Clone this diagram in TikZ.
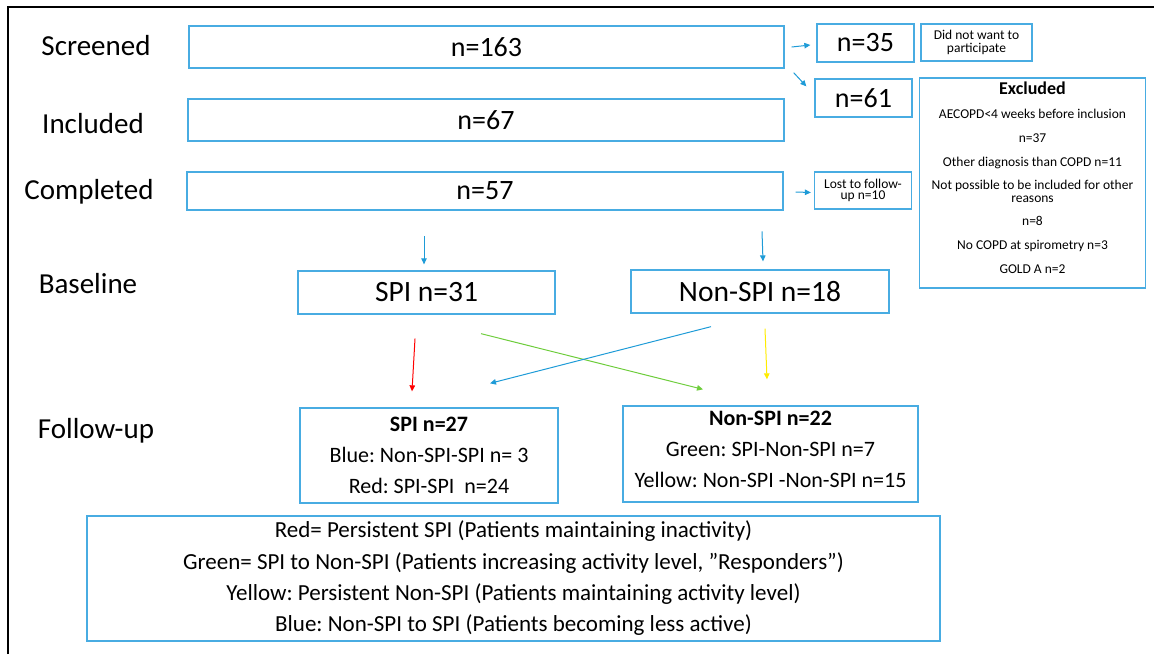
\documentclass[tikz,border=0pt]{standalone}
\usepackage{fontspec}
\setmainfont{Carlito}
\usetikzlibrary{calc,arrows.meta}
\definecolor{boxblue}{RGB}{72,172,226}
\definecolor{arrblue}{RGB}{30,155,215}
\definecolor{arrgreen}{RGB}{110,205,60}
\definecolor{arryellow}{RGB}{255,236,0}
\tikzset{
  box/.style={draw=boxblue, line width=1.3pt, inner sep=0pt, align=center},
  big/.style={font=\fontsize{28}{32}\selectfont},
  bigb/.style={font=\fontsize{29.5}{32}\selectfont},
  mid/.style={font=\fontsize{22}{31}\selectfont},
  small/.style={font=\fontsize{13.5}{13}\selectfont},
  stage/.style={font=\fontsize{29}{32}\selectfont, inner sep=0pt},
  arr/.style={line width=1pt, -{Triangle[width=5.5pt,length=6pt]}},
}
\begin{document}
\frenchspacing
\begin{tikzpicture}[x=1pt,y=-1pt]
\useasboundingbox (0,0) rectangle (1154,654);
\draw[line width=1.3pt] (8,654) -- (8,7) -- (1154,7);

% stage labels
\node[stage] (lscr) at (96,46) {Screened};
\node[stage] (linc) at (93,124) {Included};
\node[stage] (lcom) at (89,192) {Completed};
\node[stage] (lbas) at (88,284) {Baseline};
\node[stage] (lfol) at (96,431) {Follow-up};

% main boxes
\node[box,big,minimum width=595,minimum height=42] (scr) at (486.5,47) {n=163};
\node[box,big,minimum width=596,minimum height=42] (inc) at (486,120) {n=67};
\node[box,big,minimum width=596,minimum height=38] (com) at (485,191) {n=57};

% side boxes
\node[box,big,minimum width=97,minimum height=38] (n35) at (865.5,43) {n=35};
\node[box,small,minimum width=111,minimum height=37] (dnw) at (976.5,42.5) {Did not want to\\participate};
\node[box,big,minimum width=97,minimum height=38] (n61) at (863.5,98) {n=61};
\node[box,font=\fontsize{13.5}{11.5}\selectfont,minimum width=97,minimum height=37] (lost) at (863,190.5) {Lost to follow-\\up n=10};
\node[box,minimum width=226,minimum height=210] (exc) at (1032.5,183) {};
\node[font=\fontsize{13.5}{13.5}\selectfont,align=center,anchor=north,inner sep=0pt] (exct) at (1032.5,82) {{\fontsize{18}{18}\selectfont\bfseries Excluded}\\[10.5pt]
AECOPD<4 weeks before inclusion\\[10.5pt]
n=37\\[10.5pt]
Other diagnosis than COPD n=11\\[9pt]
Not possible to be included for other\\reasons\\[9pt]
n=8\\[10.5pt]
No COPD at spirometry n=3\\[10.5pt]
GOLD A n=2};

% baseline
\node[box,bigb,minimum width=257,minimum height=43] (spi31) at (426.5,292.5) {SPI n=31};
\node[box,bigb,minimum width=258,minimum height=43] (non18) at (760,291.5) {Non-SPI n=18};

% follow-up
\node[box,mid,minimum width=258,minimum height=95] (spi27) at (429,455.5) {\textbf{SPI n=27}\\Blue: Non-SPI-SPI n= 3\\Red: SPI-SPI\ \ n=24};
\node[box,mid,minimum width=295,minimum height=96] (non22) at (770.5,454) {\textbf{Non-SPI n=22}\\Green: SPI-Non-SPI n=7\\Yellow: Non-SPI -Non-SPI n=15\\[-22pt]\mbox{}};

% legend
\node[box,font=\fontsize{23}{31.3}\selectfont,minimum width=853,minimum height=125] (leg) at (513.5,578.5) {Red= Persistent SPI (Patients maintaining inactivity)\\
Green= SPI to Non-SPI (Patients increasing activity level, ”Responders”)\\
Yellow: Persistent Non-SPI (Patients maintaining activity level)\\
Blue: Non-SPI to SPI (Patients becoming less active)};

% arrows
\draw[arr,arrblue] ($(scr.east)+(7,0)$) -- ($(n35.west)+(-6,2)$);
\draw[arr,arrblue] ($(scr.south east)+(9,4)$) -- ($(n61.north west)+(-8,8)$);
\draw[arr,arrblue] ($(com.east)+(12,1)$) -- ($(lost.west)+(-3,2)$);
\draw[arr,arrblue] ($(spi31.north)+(-2.5,-34)$) -- ($(spi31.north)+(-2.5,-6)$);
\draw[arr,arrblue] ($(non18.north)+(2,-38)$) -- ($(non18.north)+(3,-8)$);
\draw[arr,red] ($(spi31.south)+(-11.5,24)$) -- ($(spi27.north)+(-17,-16)$);
\draw[arr,arrgreen] ($(spi31.south)+(54.5,19)$) -- ($(non22.north)+(-67.5,-16)$);
\draw[arr,arrblue] ($(non18.south)+(-49,13)$) -- ($(spi27.north)+(61,-24)$);
\draw[arr,arryellow] ($(non18.south)+(5,15)$) -- ($(non22.north)+(-3.5,-26)$);
\end{tikzpicture}
\end{document}
